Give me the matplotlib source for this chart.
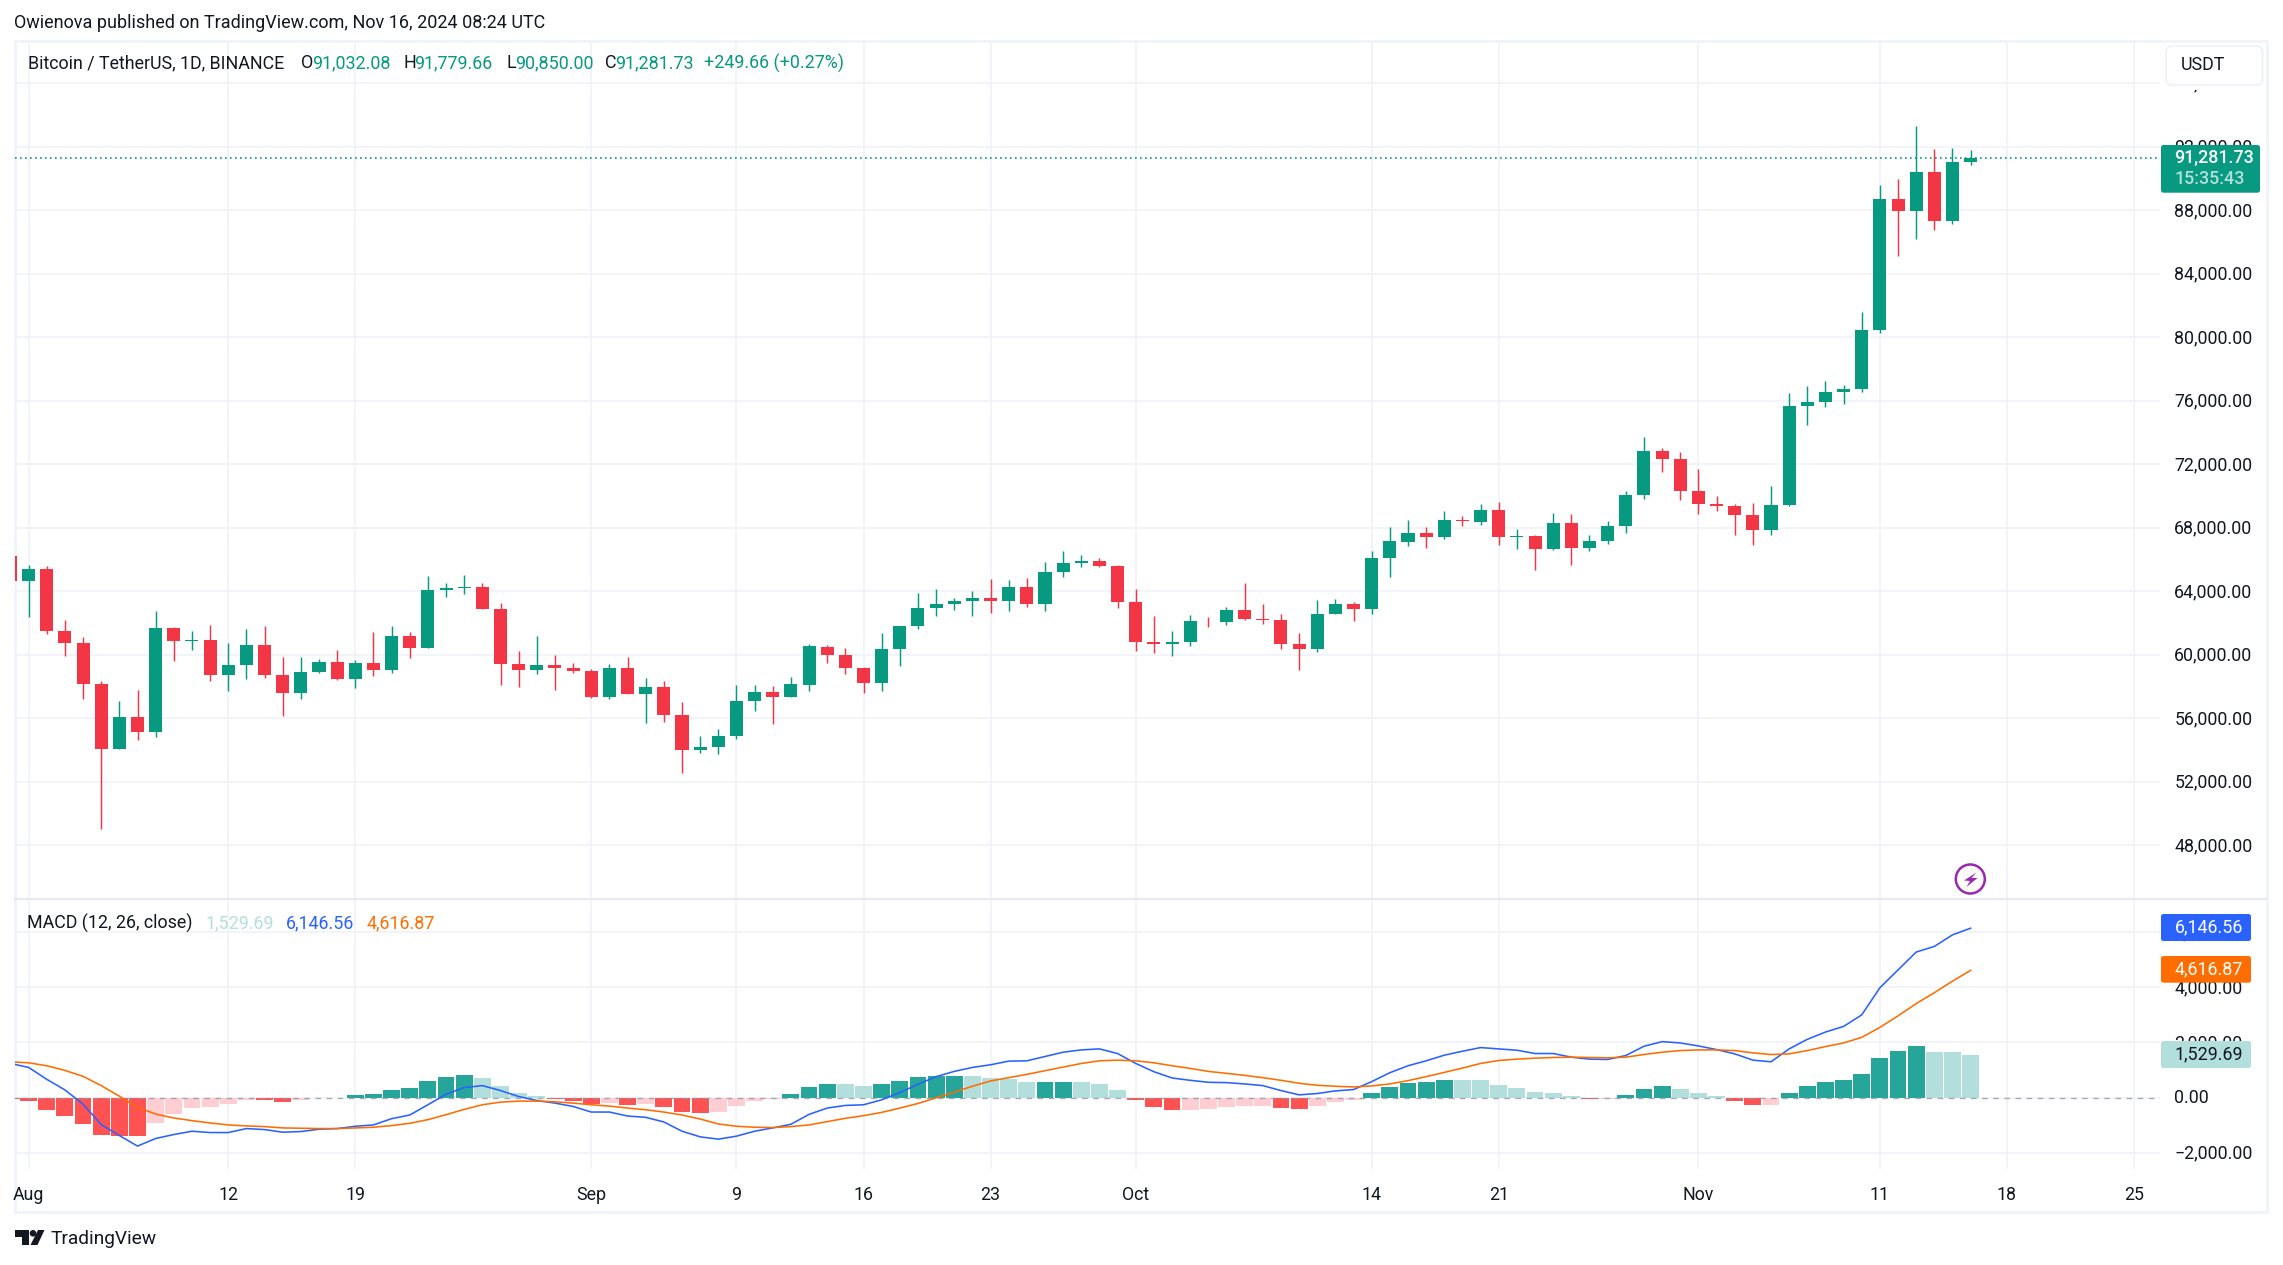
import numpy as np
import pandas as pd
import matplotlib
matplotlib.use("Agg")
import matplotlib.pyplot as plt
from matplotlib.patches import Rectangle, FancyBboxPatch, Polygon, Circle
from matplotlib.transforms import ScaledTranslation

plt.rcParams['font.family'] = ['Roboto', 'DejaVu Sans']

W, H = 2283, 1265
dates = pd.date_range('2024-07-31', periods=109)

opens = [66254, 64635, 65434, 61522, 60765, 58178, 54036, 56097, 55108, 61711,
         60849, 60954, 58704, 59335, 60639, 58746, 57569, 58893, 59566, 58452,
         59503, 59020, 61207, 60408, 64067, 64235, 64298, 62910, 59440, 59020,
         59377, 59188, 58999, 57316, 59188, 57505, 57989, 56223, 53972, 54162,
         54856, 57064, 57675, 57317, 58116, 60514, 60009, 59189, 58200, 60346,
         61797, 62932, 63185, 63374, 63605, 63374, 64299, 63185, 65203, 65771,
         65940, 65624, 63353, 60829, 60661, 60787, 62154, 62049, 62848, 62280,
         62217, 60703, 60346, 62554, 63227, 62869, 66087, 67096, 67643, 67412,
         68462, 68336, 69092, 67391, 67454, 66635, 68274, 66718, 67138, 68085,
         70040, 72816, 72333, 70314, 69494, 69367, 68800, 67853, 69409, 75655,
         75908, 76539, 76728, 80450, 88715, 87979, 90418, 87348, 91032.08]
highs = [66800, 65686, 65623, 62216, 61144, 58368, 57106, 57800, 62784, 61775,
         61522, 61901, 60765, 61648, 61838, 59882, 59882, 59756, 60323, 59693,
         61459, 61838, 61459, 64992, 64551, 65055, 64551, 63289, 60260, 61207,
         60008, 59503, 59125, 59440, 59882, 58557, 58368, 57043, 54898, 55339,
         58115, 58115, 58053, 58621, 60703, 60640, 60451, 59252, 61397, 61839,
         63921, 64173, 63605, 64047, 64804, 64741, 64867, 65876, 66570, 66318,
         66129, 65687, 64173, 62470, 61523, 62533, 62407, 63037, 64552, 63227,
         62596, 61397, 63479, 63542, 63353, 66570, 68021, 68463, 68021, 69029,
         68714, 69470, 69596, 67895, 67517, 68905, 68842, 67517, 68400, 70293,
         73700, 73006, 72753, 71681, 69977, 69473, 69536, 70608, 76476, 76917,
         77233, 76980, 81586, 89598, 89977, 93321, 91869, 91933, 91779.66]
lows = [64500, 62363, 61291, 59903, 57190, 49051, 54036, 54603, 54793, 59587,
        60281, 58326, 57695, 58452, 58515, 56117, 57190, 58830, 58400, 57884,
        58641, 58830, 59777, 60408, 63625, 63814, 62868, 58073, 57947, 58767,
        57758, 58830, 57253, 57190, 57505, 55676, 55739, 52584, 53783, 53720,
        54666, 56433, 55614, 57317, 57696, 59462, 58768, 57570, 57696, 59273,
        61607, 62427, 62806, 62427, 62617, 62743, 62995, 62743, 64888, 65519,
        65519, 62932, 60219, 60093, 59904, 60535, 61734, 61860, 62175, 61923,
        60346, 59021, 60156, 62554, 62112, 62554, 64888, 66844, 66718, 67265,
        68084, 68147, 66887, 66635, 65312, 66591, 65645, 66528, 66970, 67664,
        69809, 71512, 69746, 68863, 69052, 67538, 66907, 67538, 69367, 74478,
        75613, 75803, 76560, 80282, 85140, 86212, 86780, 87159, 90850.00]
closes = [64635, 65434, 61480, 60723, 58136, 54036, 56097, 55108, 61711, 60849,
          60954, 58704, 59377, 60639, 58704, 57569, 58936, 59566, 58452, 59503,
          59020, 61207, 60408, 64109, 64235, 64298, 62868, 59398, 59020, 59377,
          59146, 58957, 57316, 59188, 57505, 57989, 56181, 53972, 54204, 54898,
          57106, 57674, 57317, 58179, 60577, 59967, 59147, 58200, 60388, 61839,
          62974, 63227, 63416, 63605, 63374, 64299, 63185, 65246, 65813, 65940,
          65582, 63311, 60787, 60661, 60829, 62154, 62112, 62848, 62238, 62175,
          60661, 60346, 62596, 63227, 62869, 66129, 67138, 67643, 67412, 68462,
          68400, 69092, 67391, 67454, 66635, 68274, 66718, 67138, 68085, 70040,
          72816, 72333, 70314, 69494, 69367, 68800, 67853, 69409, 75655, 75908,
          76539, 76728, 80450, 88715, 87979, 90418, 87348, 91032, 91281.73]

hist = [-72, -144, -468, -684, -972, -1368, -1395, -1404, -936, -612,
        -396, -360, -252, -105, -108, -180, -108, -24, -12, 96,
        132, 276, 348, 600, 744, 816, 708, 420, 168, 60,
        -72, -144, -252, -216, -288, -252, -360, -540, -576, -540,
        -324, -144, -48, 132, 384, 495, 490, 420, 492, 600,
        750, 775, 785, 780, 708, 672, 555, 564, 570, 560,
        492, 276, -84, -336, -446, -442, -408, -336, -300, -295,
        -372, -408, -300, -156, -84, 168, 384, 528, 564, 640,
        636, 632, 456, 336, 192, 156, 48, -50, -46, 84,
        300, 408, 300, 156, 48, -132, -276, -270, 156, 408,
        552, 624, 840, 1452, 1704, 1884, 1668, 1660, 1529.69]
macd = [1236, 1092, 660, 276, -240, -984, -1380, -1764, -1488, -1344,
        -1224, -1272, -1272, -1128, -1164, -1260, -1236, -1152, -1128, -1044,
        -996, -768, -636, -264, 120, 360, 432, 252, 36, -108,
        -204, -324, -528, -528, -672, -720, -888, -1224, -1428, -1512,
        -1404, -1224, -1104, -972, -612, -384, -288, -264, -84, 180,
        480, 756, 948, 1092, 1188, 1320, 1332, 1488, 1644, 1728,
        1764, 1596, 1236, 936, 708, 624, 552, 540, 492, 432,
        252, 96, 144, 240, 288, 576, 900, 1152, 1332, 1536,
        1680, 1812, 1764, 1716, 1596, 1596, 1464, 1392, 1380, 1524,
        1860, 2028, 1980, 1872, 1740, 1584, 1356, 1296, 1764, 2112,
        2376, 2580, 3000, 3984, 4632, 5280, 5484, 5904, 6146.56]
signal = [1296, 1260, 1152, 984, 768, 432, 48, -360, -600, -744,
          -840, -924, -996, -1032, -1056, -1104, -1116, -1128, -1128, -1104,
          -1080, -1020, -936, -804, -624, -432, -264, -168, -132, -132,
          -156, -204, -264, -312, -384, -444, -528, -636, -780, -960,
          -1044, -1080, -1092, -1056, -996, -876, -756, -660, -540, -384,
          -216, -12, 192, 408, 600, 720, 840, 972, 1104, 1236,
          1332, 1356, 1332, 1260, 1152, 1056, 948, 876, 804, 720,
          624, 516, 444, 408, 384, 420, 492, 612, 756, 912,
          1068, 1236, 1344, 1392, 1428, 1452, 1464, 1452, 1440, 1464,
          1560, 1644, 1704, 1728, 1728, 1704, 1620, 1560, 1584, 1704,
          1848, 1980, 2184, 2544, 2964, 3408, 3804, 4224, 4616.87]

price_ticks = [48000, 52000, 56000, 60000, 64000, 68000, 72000, 76000,
               80000, 84000, 88000, 92000, 96000]
macd_ticks = [-2000, 0, 2000, 4000, 6000]
time_ticks = ['2024-08-01', '2024-08-12', '2024-08-19', '2024-09-01', '2024-09-09',
              '2024-09-16', '2024-09-23', '2024-10-01', '2024-10-14', '2024-10-21',
              '2024-11-01', '2024-11-11', '2024-11-18', '2024-11-25']
time_labels = ['Aug', '12', '19', 'Sep', '9', '16', '23', 'Oct', '14', '21', 'Nov', '11', '18', '25']

GREEN, RED = '#089981', '#F23645'
GRID = '#F0F2F8'
FRAME = '#F0F3FA'
TEXT = '#131722'

L, R, T, MB, SB = 14.5, 2160.0, 41.0, 899.0, 1169.3


def pane(top, bottom):
    return [L / W, 1 - bottom / H, (R - L) / W, (bottom - top) / H]


fig = plt.figure(figsize=(W / 100, H / 100), dpi=100, facecolor='white')

# frame sits behind the panes so the clipped first candle stays visible
bg = fig.add_axes([0, 0, 1, 1], zorder=-1)
bg.set_xlim(0, W)
bg.set_ylim(H, 0)
bg.axis('off')
bg.add_patch(Rectangle((L, T), 2267 - L, 1212 - T, fill=False, ec=FRAME, lw=2.0))

ax = fig.add_axes(pane(T, MB))
ax2 = fig.add_axes(pane(MB, SB))
ax.patch.set_alpha(0)
ax2.patch.set_alpha(0)

day0 = pd.Timestamp('2024-08-01')
x = np.array([(d - day0).days for d in dates], dtype=float)
o, h, l, c = map(np.array, (opens, highs, lows, closes))
up = c >= o
cols = np.where(up, GREEN, RED)

ax.vlines(x, l, h, colors=cols, lw=1.05, zorder=3)
ax.bar(x, np.maximum(np.abs(c - o), 30), bottom=np.minimum(o, c), width=0.72, color=cols, lw=0, zorder=4)
ax.axhline(closes[-1], color=GREEN, lw=1.2, ls=(0, (1, 2)), zorder=2)

hv = np.array(hist, dtype=float)
prev = np.concatenate(([0.0], hv[:-1]))
hcols = []
for val, p in zip(hv, prev):
    if val >= 0:
        hcols.append('#26A69A' if p < val else '#B2DFDB')
    else:
        hcols.append('#FFCDD2' if p < val else '#FF5252')
ax2.bar(x, hv, width=0.93, color=hcols, lw=0, zorder=2)
ax2.axhline(0, color='#9598A1', lw=1.0, ls=(0, (4, 4)), alpha=0.8, zorder=3)
ax2.plot(x, macd, color='#2962FF', lw=1.15, zorder=4, solid_joinstyle='round')
ax2.plot(x, signal, color='#FF6D00', lw=1.15, zorder=5, solid_joinstyle='round')

tick_x = [(pd.Timestamp(t) - day0).days for t in time_ticks]
px_day, x0 = 18.15, 28.6
xlim = ((L - x0) / px_day, (R - x0) / px_day)
for a in (ax, ax2):
    a.set_xlim(*xlim)
    a.set_xticks(tick_x)
    a.grid(True, color=GRID, lw=1.2, zorder=0)
    a.set_axisbelow(True)
    for s in a.spines.values():
        s.set_visible(False)
    a.yaxis.tick_right()
    a.tick_params(axis='both', length=0, labelcolor=TEXT, labelsize=12.8)
    a.tick_params(axis='y', pad=10.3)

px_per_usd = 0.015875
ax.set_ylim(88000 - (MB - 210.3) / px_per_usd, 88000 + (210.3 - T) / px_per_usd)
ax.set_yticks(price_ticks)
ax.set_yticklabels([f'{v:,.2f}' for v in price_ticks])
ax.tick_params(axis='x', labelbottom=False)

usd_per_px = 36.3
ax2.set_ylim(-(SB - 1097.5) * usd_per_px, (1097.5 - MB) * usd_per_px)
ax2.set_yticks(macd_ticks)
ax2.set_yticklabels([f'{v:,.2f}'.replace('-', '\u2212') for v in macd_ticks])
ax2.set_xticklabels(time_labels)
ax2.tick_params(axis='x', pad=11.8)

shift = ScaledTranslation(0, 1.3 / 100, fig.dpi_scale_trans)
for a in (ax, ax2):
    for lab in a.get_yticklabels():
        lab.set_transform(lab.get_transform() + shift)

# overlay in pixel coordinates for the chrome of the screenshot
ov = fig.add_axes([0, 0, 1, 1], zorder=10)
ov.set_xlim(0, W)
ov.set_ylim(H, 0)
ov.axis('off')
ov.patch.set_alpha(0)

ov.plot([L, 2267], [MB, MB], color='#E8EAF0', lw=1.6)


def box(x0_, y0_, x1_, y1_, fc, ec='none', lw=0, r=2.5):
    ov.add_patch(FancyBboxPatch((x0_ + r, y0_ + r), x1_ - x0_ - 2 * r, y1_ - y0_ - 2 * r,
                                boxstyle=f'round,pad={r},rounding_size={r}', fc=fc, ec=ec, lw=lw))


def txt(x_, y_, s, color=TEXT, size=12.9, **kw):
    ov.text(x_, y_, s, color=color, fontsize=size, va='center', ha=kw.pop('ha', 'left'), **kw)


# publisher and legends
txt(14, 23, 'Owienova published on TradingView.com, Nov 16, 2024 08:24 UTC', size=13)
txt(27.5, 63, 'Bitcoin / TetherUS, 1D, BINANCE')
for xa, la, xb, val in [(301, 'O', 312, '91,032.08'), (403.6, 'H', 414.5, '91,779.66'),
                        (506, 'L', 515, '90,850.00'), (604.5, 'C', 615, '91,281.73')]:
    txt(xa, 63, la)
    txt(xb, 63, val, color=GREEN)
txt(704, 63, '+249.66 (+0.27%)', color=GREEN)

txt(27, 923, 'MACD (12, 26, close)')
txt(205.5, 923, '1,529.69', color='#B2DFDB')
txt(286, 923, '6,146.56', color='#2962FF')
txt(366.5, 923, '4,616.87', color='#FF6D00')

# USDT button, with the white strip that hides the label behind it
ov.add_patch(Rectangle((2161, 80), 102, 9.5, fc='white', ec='none'))
box(2166, 46, 2262.5, 85, 'white', ec=FRAME, lw=1.6, r=6)
txt(2181, 65.5, 'USDT')

# last price and indicator value tags
box(2161, 145, 2260, 192.7, GREEN)
txt(2174.5, 158, '91,281.73', color='white', fontweight='medium')
txt(2174.5, 179, '15:35:43', color='#B2DFDB', fontweight='medium')
box(2161, 914, 2251, 941, '#2962FF')
txt(2174.5, 927.5, '6,146.56', color='white')
box(2161, 956, 2251, 982.7, '#FF6D00')
txt(2174.5, 969.5, '4,616.87', color='white')
box(2161, 1041, 2251, 1068, '#B2DFDB')
txt(2174.5, 1054, '1,529.69', color=TEXT)

# lightning badge
ov.add_patch(Circle((1970.3, 879), 14.5, fill=False, ec='#9C27B0', lw=1.8))
ov.add_patch(Polygon([(1976.5, 872.5), (1964, 880.5), (1970, 881), (1966.5, 887),
                      (1977.5, 878), (1971.5, 878)], closed=True, fc='#9C27B0', ec='none'))

# TradingView logo
ov.add_patch(Polygon([(15, 1230), (29, 1230), (29, 1245), (22, 1245), (22, 1236.5), (15, 1236.5)],
                     closed=True, fc=TEXT, ec='none'))
ov.add_patch(Circle((33, 1233.3), 3.3, fc=TEXT, ec='none'))
ov.add_patch(Polygon([(38, 1230), (44.5, 1230), (37.5, 1245), (30.5, 1245)], closed=True, fc=TEXT, ec='none'))
txt(50, 1239.5, 'TradingView', size=13.8)

fig.savefig('out.png', dpi=100, facecolor='white')
